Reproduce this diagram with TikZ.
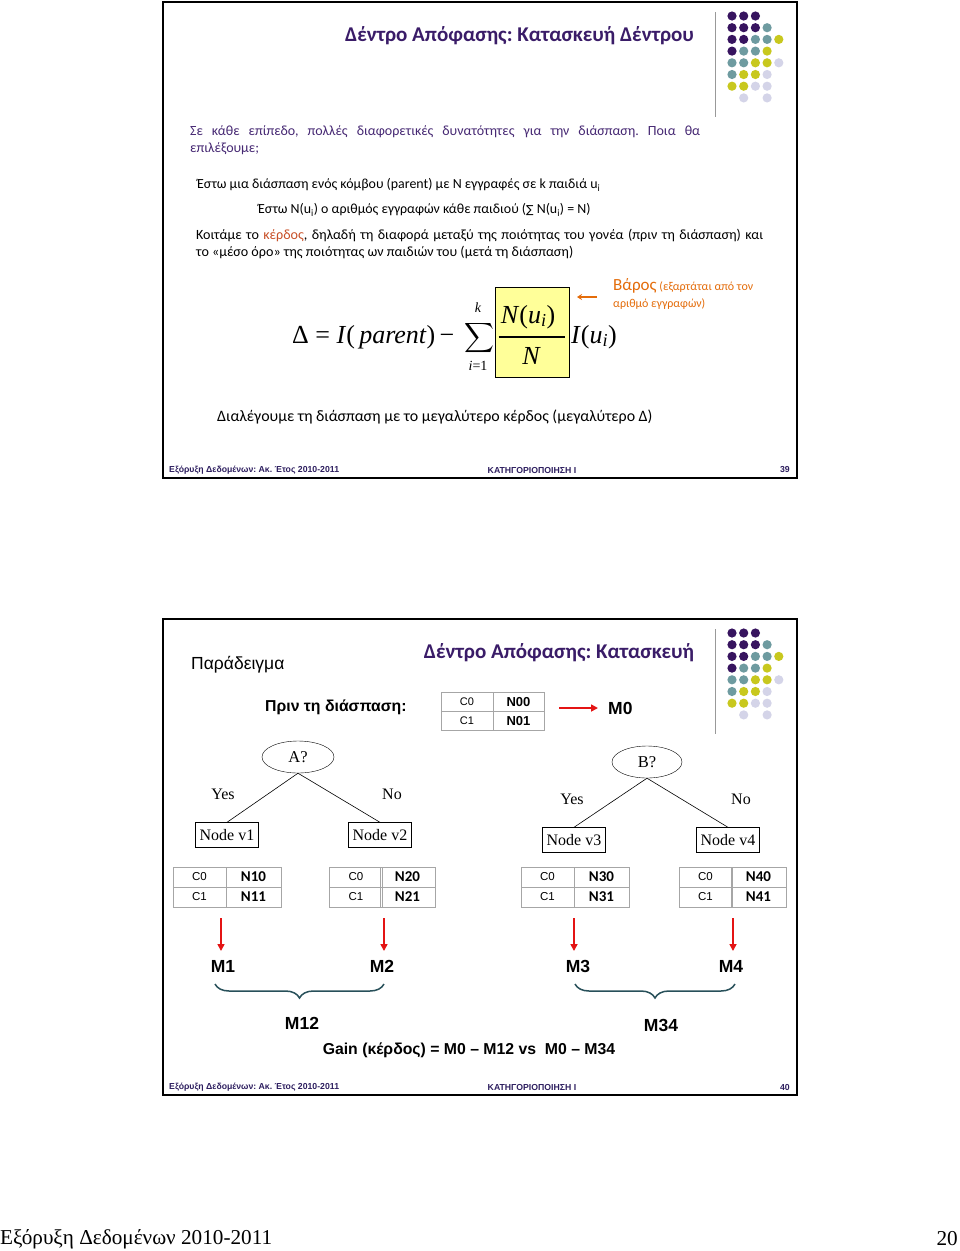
\documentclass[tikz,border=0pt]{standalone}
\usepackage{amsmath}
\usepackage{fontspec}
\setmainfont{Carlito}
\newfontfamily\arial{Liberation Sans}
\newfontfamily\tms{Liberation Serif}
\newfontfamily\dejav{DejaVu Sans}
\usetikzlibrary{decorations.pathreplacing,arrows.meta,shapes.geometric,calc}
\definecolor{titlep}{RGB}{58,28,104}
\definecolor{bodyp}{RGB}{70,40,115}
\definecolor{footc}{RGB}{45,30,95}
\definecolor{kerd}{RGB}{200,80,40}
\definecolor{barc}{RGB}{228,108,10}
\definecolor{dp}{RGB}{55,20,95}
\definecolor{dt}{RGB}{110,155,160}
\definecolor{dy}{RGB}{200,200,30}
\definecolor{dl}{RGB}{212,212,232}
\definecolor{bracec}{RGB}{40,80,90}
\definecolor{arred}{RGB}{228,20,20}
\definecolor{boxy}{RGB}{255,255,153}
\newcommand\fs[2]{\fontsize{#1}{#2}\selectfont}
\newcommand\dotgrid[1]{%
  \foreach \c/\r/\col in {1/1/dp,2/1/dp,3/1/dp,
      1/2/dp,2/2/dp,3/2/dp,4/2/dt,
      1/3/dp,2/3/dp,3/3/dt,4/3/dt,5/3/dy,
      1/4/dp,2/4/dt,3/4/dt,4/4/dy,
      1/5/dt,2/5/dt,3/5/dy,4/5/dy,5/5/dl,
      1/6/dt,2/6/dy,3/6/dy,4/6/dl,
      1/7/dy,2/7/dy,3/7/dl,4/7/dl,
      2/8/dl,4/8/dl}
    {\fill[\col] ({720.3+11.7*\c},{#1+11.7*(\r-1)}) circle[radius=4.6pt];}%
}
\frenchspacing
\tikzset{
  frame/.style={draw=black,line width=1.8pt},
  vline/.style={draw=gray!80,line width=1pt},
  txt/.style={inner sep=0pt,anchor=west},
  ttl/.style={inner sep=0pt,text=titlep,font=\bfseries\fs{21}{25}},
  foot/.style={inner sep=0pt,text=footc,font=\arial\bfseries\fs{8.7}{10}},
  ell/.style={ellipse,draw,minimum width=72pt,minimum height=32pt,inner sep=0pt,font=\tms\fs{16.5}{19}},
  tnode/.style={draw,minimum height=25pt,inner xsep=4pt,inner ysep=0pt,font=\tms\fs{16}{19}},
  tlab/.style={inner sep=0pt,font=\tms\fs{16}{19}},
  cellL/.style={draw=gray!70,line width=0.6pt,minimum width=53pt,minimum height=20pt,inner sep=0pt,font=\arial\fs{11.5}{13}},
  cellR/.style={draw=gray!70,line width=0.6pt,minimum width=55pt,minimum height=20pt,inner sep=0pt,font=\bfseries\fs{15}{16}},
  mlab/.style={inner sep=0pt,font=\arial\bfseries\fs{17.5}{20}},
  redarrow/.style={draw=arred,line width=1.6pt,-{Triangle[length=7pt,width=7pt]}},
  brc/.style={draw=bracec,line width=1.5pt,decorate,decoration={brace,mirror,amplitude=14pt}},
}
\begin{document}
\begin{tikzpicture}[x=1pt,y=-1pt]
\useasboundingbox (0,0) rectangle (960,1251);
\fill[white] (0,0) rectangle (960,1251);

% ================= Slide 39 =================
\draw[frame] (163,2) rectangle (797,478);
\draw[vline] (715,12) -- (715,117);
\dotgrid{16}
\node[ttl] (t1) at (519.5,36) {Δέντρο Απόφασης: Κατασκευή Δέντρου};

\node[txt,anchor=north west,text width=510pt,align=justify,text=bodyp,font=\fs{14}{17}] (p1) at (190,125)
  {Σε κάθε επίπεδο, πολλές διαφορετικές δυνατότητες για την διάσπαση. Ποια θα\linebreak επιλέξουμε;};

\node[txt,font=\fs{13.9}{15}] (l1) at (197,185) {Έστω μια διάσπαση ενός κόμβου (parent) με Ν εγγραφές σε k παιδιά u\textsubscript{i}};
\node[txt,font=\fs{13.9}{15}] (l2) at (258,210) {Έστω N(u\textsubscript{i}) ο αριθμός εγγραφών κάθε παιδιού ({\dejav\fs{11}{12}∑} N(u\textsubscript{i}) = N)};
\node[txt,anchor=north west,text width=567pt,align=justify,font=\fs{14.1}{17}] (l3) at (196,229)
  {Κοιτάμε το \textcolor{kerd}{κέρδος}, δηλαδή τη διαφορά μεταξύ της ποιότητας του γονέα (πριν τη διάσπαση) και\linebreak
   το «μέσο όρο» της ποιότητας ων παιδιών του (μετά τη διάσπαση)};

% formula
\node[txt] (lhs) at (292,337) {\tms\fs{26}{30}Δ = \textit{I}(\,\textit{parent})\,−};
\node[inner sep=0pt] (sum) at (479.5,338) {\fs{22}{26}$\displaystyle\sum$};
\node[inner sep=0pt] (kk) at (478,308) {\tms\itshape\fs{14}{16}k};
\node[inner sep=0pt] (i1) at (478,366) {\tms\fs{14}{16}\textit{i}=1};
\node[draw=black,fill=boxy,line width=0.9pt,minimum width=74pt,minimum height=90pt,inner sep=0pt] (wbox) at (532,332) {};
\draw[line width=1.1pt] ($(wbox.west)+(4,5)$) -- ($(wbox.east)+(-4,5)$);
\node[inner sep=0pt] (nu) at (528,317) {\tms\fs{26}{30}\textit{N}(\textit{u\textsubscript{i}})};
\node[inner sep=0pt] (nn) at (531,356) {\tms\itshape\fs{26}{30}N};
\node[txt] (iu) at (571,337) {\tms\fs{26}{30}\textit{I}(\textit{u\textsubscript{i}})};
\coordinate (oa) at (597,297);
\coordinate (ob) at (577,297);
\draw[draw=barc,line width=1.6pt,-{Stealth[length=5pt,width=6pt]}] (oa) -- (ob);
\node[txt,anchor=north west,text=barc,align=left,font=\fs{12}{17}] (var) at (613,278)
  {{\fs{17}{17}Βάρος} (εξαρτάται από τον\\αριθμό εγγραφών)};

\node[txt,font=\fs{15.9}{18}] (l4) at (217,417) {Διαλέγουμε τη διάσπαση με το μεγαλύτερο κέρδος (μεγαλύτερο Δ)};

\node[foot,anchor=west] (f1a) at (169,470) {Εξόρυξη Δεδομένων: Ακ. Έτος 2010-2011};
\node[foot] (f1b) at (532,470) {ΚΑΤΗΓΟΡΙΟΠΟΙΗΣΗ Ι};
\node[foot,anchor=east] (f1c) at (790,470) {39};

% ================= Slide 40 =================
\draw[frame] (163,619) rectangle (797,1095);
\draw[vline] (715,629) -- (715,734);
\dotgrid{633}
\node[txt,font=\arial\fs{17.5}{20}] (ex) at (191,665) {Παράδειγμα};
\node[ttl] (t2) at (559,653) {Δέντρο Απόφασης: Κατασκευή};
\node[txt,font=\arial\bfseries\fs{15.8}{18}] (prin) at (265,707) {Πριν τη διάσπαση:};
\node[cellL,minimum width=52pt,minimum height=19pt,font=\arial\fs{11}{13}] (c00) at (467,702) {C0};
\node[cellL,minimum width=52pt,minimum height=19pt,font=\arial\fs{11}{13}] (c01) at (467,721) {C1};
\node[cellR,minimum width=51pt,minimum height=19pt,font=\arial\bfseries\fs{13}{14}] (n00) at (518.5,702) {N00};
\node[cellR,minimum width=51pt,minimum height=19pt,font=\arial\bfseries\fs{13}{14}] (n01) at (518.5,721) {N01};
\node[mlab,anchor=west] (m0) at (608,708) {M0};
\coordinate (a0s) at (559,708);
\draw[redarrow] (a0s) -- ($(m0.west)+(-10,0)$);

% tree
\node[ell] (A) at (298,757) {A?};
\node[tnode] (v1) at (227,835) {Node v1};
\node[tnode] (v2) at (380,835) {Node v2};
\draw[line width=0.6pt] (A.south) -- (v1.north);
\draw[line width=0.6pt] (A.south) -- (v2.north);
\node[tlab] (y1) at (223,794) {Yes};
\node[tlab] (n1) at (392,794) {No};
\node[ell,minimum width=70pt] (B) at (647,762) {B?};
\node[tnode] (v3) at (574,840) {Node v3};
\node[tnode] (v4) at (728,840) {Node v4};
\draw[line width=0.6pt] (B.south) -- (v3.north);
\draw[line width=0.6pt] (B.south) -- (v4.north);
\node[tlab] (y2) at (572,799) {Yes};
\node[tlab] (n2) at (741,799) {No};

% count tables
\foreach \k/\xl/\xr in {1/199.5/253.5,2/356/407.5,3/547.5/601.5,4/705.5/758.5}{
  \node[cellL] (c\k a) at (\xl,877) {C0};
  \node[cellL] (c\k b) at (\xl,897) {C1};
  \node[cellR] (n\k a) at (\xr,877) {N\k0};
  \node[cellR] (n\k b) at (\xr,897) {N\k1};
}

% M labels and arrows
\node[mlab] (M1) at (223,966) {M1};
\node[mlab] (M2) at (382,966) {M2};
\node[mlab] (M3) at (578,966) {M3};
\node[mlab] (M4) at (731,966) {M4};
\foreach \k/\xa in {1/221,2/384,3/574,4/733}{
  \coordinate (s\k) at (\xa,918);
  \coordinate (e\k) at (\xa,951);
  \draw[redarrow] (s\k) -- (e\k);
}
\coordinate (b1l) at (215,984);
\coordinate (b1r) at (384,984);
\coordinate (b2l) at (575,984);
\coordinate (b2r) at (735,984);
\draw[brc] (b1l) -- (b1r);
\draw[brc] (b2l) -- (b2r);
\node[mlab] (M12) at (302,1023) {M12};
\node[mlab] (M34) at (661,1025) {M34};
\node[inner sep=0pt,font=\arial\bfseries\fs{15.8}{18}] (gain) at (469,1050) {Gain (κέρδος) = M0 – M12 vs\ \ M0 – M34};

\node[foot,anchor=west] (f2a) at (169,1087) {Εξόρυξη Δεδομένων: Ακ. Έτος 2010-2011};
\node[foot] (f2b) at (532,1087) {ΚΑΤΗΓΟΡΙΟΠΟΙΗΣΗ Ι};
\node[foot,anchor=east] (f2c) at (790,1087) {40};

% page footer
\node[txt,font=\tms\fs{21.2}{24}] (pf) at (0,1239) {Εξόρυξη Δεδομένων 2010-2011};
\node[txt,anchor=east,font=\tms\fs{21.2}{24}] (pn) at (958,1239) {20};
\end{tikzpicture}
\end{document}
